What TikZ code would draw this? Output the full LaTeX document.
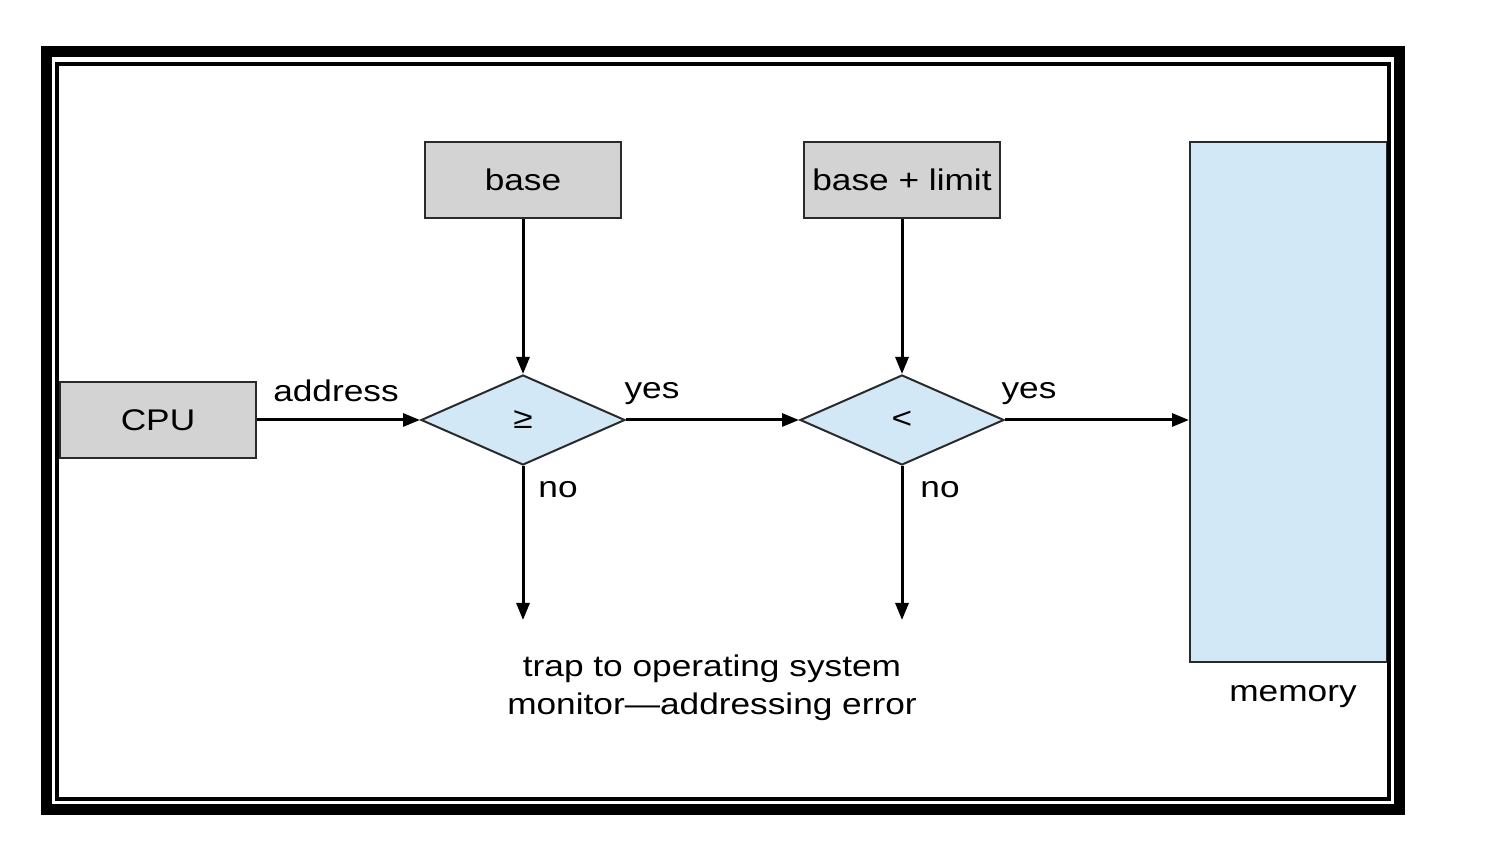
\documentclass[tikz,border=0pt]{standalone}
\usepackage{fontspec}
\setmainfont{Liberation Sans}[FakeStretch=1.18]
\usepackage{xcolor}
\usepackage{tikz}
\usetikzlibrary{arrows.meta,positioning,shapes.geometric,calc}
\definecolor{regGray}{HTML}{D3D3D3}
\definecolor{memBlue}{HTML}{D2E8F6}
\definecolor{edgeGray}{HTML}{2A2A2A}

\begin{document}
\begin{tikzpicture}[
  font=\fontsize{17}{21.5}\selectfont,
  reg/.style={draw=edgeGray, line width=0.04cm, fill=regGray,
    minimum width=3.92cm, minimum height=1.52cm, inner sep=0pt},
  test/.style={diamond, draw=edgeGray, line width=0.04cm, fill=memBlue,
    minimum width=4.08cm, minimum height=1.8cm, aspect=2.27, inner sep=0pt},
  arr/.style={-{Triangle[length=0.34cm, width=0.26cm]}, line width=0.06cm},
  lbl/.style={inner sep=0pt},
]
\useasboundingbox (0,0) rectangle (29.76,16.84);
% frame
\draw[line width=0.22cm] (0.92,0.64) rectangle (27.98,15.8);

% memory
\node[draw=edgeGray, line width=0.04cm, fill=memBlue, minimum width=3.94cm,
  minimum height=10.4cm, inner sep=0pt] (mem) at (25.77,8.8) {};
\draw[line width=0.08cm] (1.14,0.86) rectangle (27.78,15.56);

% registers and comparisons
\node[reg] (cpu) at (3.16,8.44) {CPU};
\node[reg] (base) at (10.46,13.24) {base};
\node[reg] (limit) at (18.04,13.24) {base + limit};
\node[test] (ge) at (10.46,8.44) {≥};
\node[test] (lt) at (18.04,8.44) {<};
\coordinate (trapa) at (10.46,4.44);
\coordinate (trapb) at (18.04,4.44);

\draw[arr] (cpu) -- (ge);
\draw[arr] (base) -- (ge);
\draw[arr] (limit) -- (lt);
\draw[arr] (ge) -- (lt);
\draw[arr] (lt.east) -- (lt.east -| mem.west);
\draw[arr] (ge.south) -- (trapa);
\draw[arr] (lt.south) -- (trapb);

% labels
\node[lbl] (addr) at (6.72,9.02) {address};
\node[lbl] (yesa) at (13.04,8.96) {yes};
\node[lbl] (yesb) at (20.58,8.96) {yes};
\node[lbl] (noa) at (11.16,7.04) {no};
\node[lbl] (nob) at (18.8,7.04) {no};
\node[lbl, align=center] (trap) at (14.24,3.08) {trap to operating system\\monitor---addressing error};
\node[lbl] (memlbl) at (25.86,2.9) {memory};
\end{tikzpicture}
\end{document}
